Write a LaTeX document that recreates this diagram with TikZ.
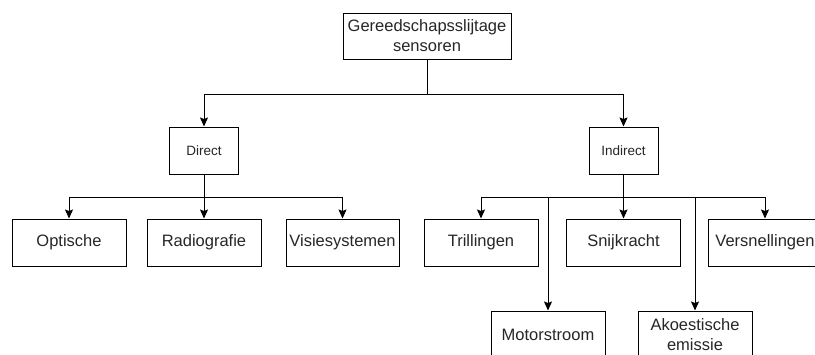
\documentclass[tikz,border=0pt]{standalone}
\usepackage{fontspec}
\setmainfont{Liberation Sans}
\usetikzlibrary{arrows.meta}
\begin{document}
\begin{tikzpicture}[x=1pt,y=-1pt,
  box/.style={draw=black,line width=1pt,fill=white,minimum width=114pt,minimum height=47pt,inner sep=0pt,align=center,font=\fontsize{16.5}{20}\selectfont,text=black!85},
  smallbox/.style={box,minimum width=69pt,font=\fontsize{13.5}{16}\selectfont},
  arr/.style={draw=black,line width=1pt,-{Stealth[length=9pt,width=8pt,inset=1.5pt]}},
  ln/.style={draw=black,line width=1pt}]
\useasboundingbox (0,0) rectangle (815,354);
\clip (0,0) rectangle (815,354);
\node[box,minimum width=168pt,minimum height=46pt] (top) at (427,36) {Gereedschapsslijtage\\sensoren};
\node[smallbox] (direct) at (204,150.5) {Direct};
\node[smallbox] (indirect) at (623.5,150.5) {Indirect};
\node[box] (opt) at (69,242.5) {Optische};
\node[box] (rad) at (204,242.5) {Radiografie};
\node[box,minimum width=113pt] (vis) at (342.5,242.5) {Visiesystemen};
\node[box] (tril) at (481,242.5) {Trillingen};
\node[box] (snij) at (623.5,242.5) {Snijkracht};
\node[box] (vers) at (765,242.5) {Versnellingen};
\node[box] (motor) at (548,334.5) {Motorstroom};
\node[box] (ako) at (695,334.5) {Akoestische\\emissie};
\coordinate (j1) at (427,94);
\coordinate (j2) at (204,197);
\coordinate (j3) at (623.5,197);
\draw[ln] (top.south) -- (j1);
\draw[arr] (j1) -| (direct.north);
\draw[arr] (j1) -| (indirect.north);
\draw[ln] (direct.south) -- (j2);
\draw[arr] (j2) -| (opt.north);
\draw[arr] (j2) -- (rad.north);
\draw[arr] (j2) -| (vis.north);
\draw[ln] (indirect.south) -- (j3);
\draw[arr] (j3) -| (tril.north);
\draw[arr] (j3) -| (motor.north);
\draw[arr] (j3) -- (snij.north);
\draw[arr] (j3) -| (ako.north);
\draw[arr] (j3) -| (vers.north);
\end{tikzpicture}
\end{document}
